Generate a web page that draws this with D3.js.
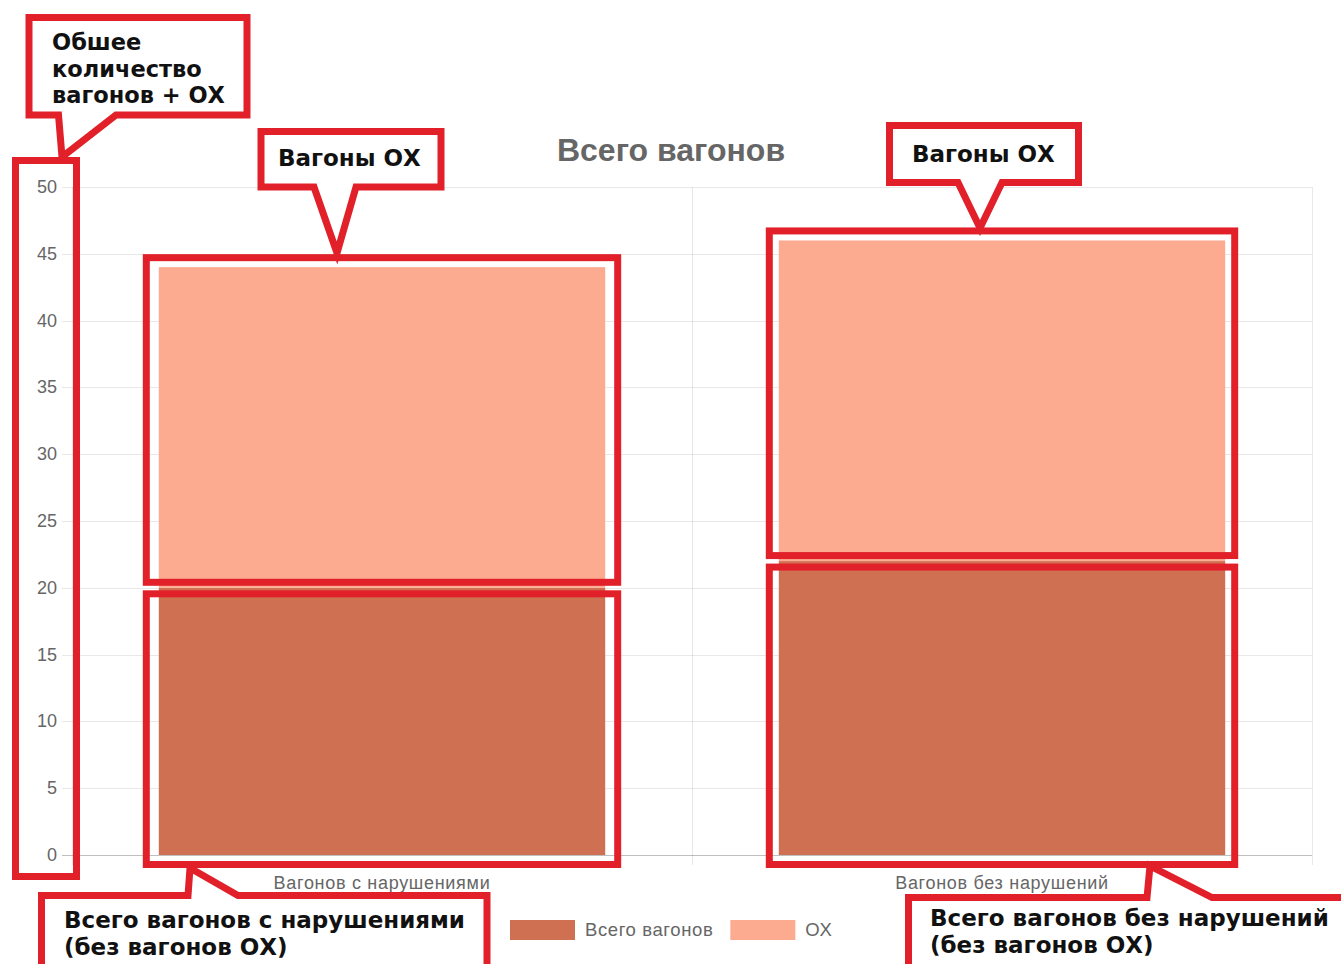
<!DOCTYPE html>
<html>
<head>
<meta charset="utf-8">
<script src="https://cdn.jsdelivr.net/npm/d3@7"></script>
<style>
  body { margin: 0; background: #fff; }
  svg { display: block; }
</style>
</head>
<body>
<script>
// chart data
var categories = ["Вагонов с нарушениями", "Вагонов без нарушений"];
var seriesNames = ["Всего вагонов", "ОХ"];
var totalWagons = [20, 22];
var ohWagons = [24, 24];
var yTicks = [0, 5, 10, 15, 20, 25, 30, 35, 40, 45, 50];
var colors = ["#cf7052", "#fcab91"];

var width = 1341, height = 964;
var red = "#e1202a";
var annoFont = "'DejaVu Sans', Verdana, sans-serif";
var chartFont = "'Liberation Sans', Arial, sans-serif";

var svg = d3.select("body")
    .append("svg")
    .attr("width", width)
    .attr("height", height);

var y = d3.scaleLinear()
    .domain([0, 50])
    .range([855, 187]);

var x = d3.scaleBand()
    .domain(categories)
    .range([72, 1312])
    .paddingInner(0);

var barWidth = x.bandwidth() * 0.72;

var rows = categories.map(function(c, i) {
    return {cat: c, "Всего вагонов": totalWagons[i], "ОХ": ohWagons[i]};
});
var stacked = d3.stack().keys(seriesNames)(rows);

// grid lines
svg.append("g")
    .selectAll("line")
    .data(yTicks)
    .enter()
    .append("line")
    .attr("x1", 62)
    .attr("x2", 1312)
    .attr("y1", function(d) { return Math.round(y(d)) + 0.5; })
    .attr("y2", function(d) { return Math.round(y(d)) + 0.5; })
    .attr("stroke", function(d) { return d === 0 ? "rgba(0,0,0,0.25)" : "rgba(0,0,0,0.09)"; })
    .attr("stroke-width", 1);

var edges = [72, 72 + x.bandwidth(), 1312];
svg.append("g")
    .selectAll("line")
    .data(edges)
    .enter()
    .append("line")
    .attr("x1", function(d) { return d + 0.5; })
    .attr("x2", function(d) { return d + 0.5; })
    .attr("y1", y(50))
    .attr("y2", 865)
    .attr("stroke", "rgba(0,0,0,0.09)");

// y tick labels
svg.append("g")
    .selectAll("text")
    .data(yTicks)
    .enter()
    .append("text")
    .attr("x", 57)
    .attr("y", function(d) { return y(d) + 6; })
    .attr("text-anchor", "end")
    .attr("font-family", chartFont)
    .attr("font-size", 18)
    .attr("fill", "#666")
    .text(function(d) { return d; });

// category labels
svg.append("g")
    .selectAll("text")
    .data(categories)
    .enter()
    .append("text")
    .attr("x", function(d) { return x(d) + x.bandwidth() / 2; })
    .attr("y", 889)
    .attr("text-anchor", "middle")
    .attr("font-family", chartFont)
    .attr("font-size", 18)
    .attr("letter-spacing", 0.7)
    .attr("fill", "#666")
    .text(function(d) { return d; });

// title
svg.append("text")
    .attr("x", 671)
    .attr("y", 161)
    .attr("text-anchor", "middle")
    .attr("font-family", chartFont)
    .attr("font-weight", "bold")
    .attr("font-size", 32)
    .attr("fill", "#666")
    .text("Всего вагонов");

// bars
svg.append("g")
    .selectAll("g")
    .data(stacked)
    .enter()
    .append("g")
    .attr("fill", function(d, i) { return colors[i]; })
    .selectAll("rect")
    .data(function(d) { return d; })
    .enter()
    .append("rect")
    .attr("x", function(d) { return x(d.data.cat) + (x.bandwidth() - barWidth) / 2; })
    .attr("width", barWidth)
    .attr("y", function(d) { return y(d[1]); })
    .attr("height", function(d) { return y(d[0]) - y(d[1]); });

// legend
var legend = svg.append("g");
var lx = 510;
seriesNames.forEach(function(name, i) {
    legend.append("rect")
        .attr("x", lx)
        .attr("y", 920)
        .attr("width", 65)
        .attr("height", 20)
        .attr("fill", colors[i]);
    var t = legend.append("text")
        .attr("x", lx + 75)
        .attr("y", 936)
        .attr("font-family", chartFont)
        .attr("font-size", 18.5)
        .attr("letter-spacing", 0.6)
        .attr("fill", "#666")
        .text(name);
    lx += 75 + t.node().getComputedTextLength() + 17;
});

// annotation boxes around bar segments
var anno = svg.append("g")
    .attr("fill", "none")
    .attr("stroke", red)
    .attr("stroke-width", 7);

stacked.forEach(function(layer, li) {
    layer.forEach(function(d, ci) {
        var cx = x(d.data.cat) + x.bandwidth() / 2;
        var padX = ci === 0 ? 12.5 : 9.5;
        var top = li === 1 ? y(d[1]) - 9.5 : y(d[1]) + 6;
        var bottom = li === 1 ? y(d[0]) - 5.5 : y(d[0]) + 9.5;
        anno.append("rect")
            .attr("x", cx - barWidth / 2 - padX)
            .attr("y", top)
            .attr("width", barWidth + padX * 2)
            .attr("height", bottom - top);
    });
});

// box around y axis labels
anno.append("rect")
    .attr("x", 15.5)
    .attr("y", 160.5)
    .attr("width", 61)
    .attr("height", 716);

// callouts
function calloutDown(x0, y0, x1, y1, ta, tb, tip) {
    return "M" + x0 + "," + y0 + "L" + x1 + "," + y0 + "L" + x1 + "," + y1 +
        "L" + tb + "," + y1 + "L" + tip[0] + "," + tip[1] + "L" + ta + "," + y1 +
        "L" + x0 + "," + y1 + "Z";
}
function calloutUp(x0, y0, x1, y1, ta, tb, tip) {
    return "M" + x0 + "," + y0 + "L" + ta + "," + y0 + "L" + tip[0] + "," + tip[1] +
        "L" + tb + "," + y0 + "L" + x1 + "," + y0 + "L" + x1 + "," + y1 +
        "L" + x0 + "," + y1 + "Z";
}

var callouts = [
    {d: calloutDown(29, 17.5, 247, 115, 58.5, 116, [62, 157]),
     lines: ["Обшее", "количество", "вагонов + ОХ"], tx: 52, ty: 50, size: 22.5},
    {d: calloutDown(261, 131.5, 441, 187, 314, 356, [337, 253]),
     lines: ["Вагоны ОХ"], tx: 278, ty: 166, size: 23},
    {d: calloutDown(889.5, 125.5, 1078.5, 182.5, 958, 1002, [980, 228]),
     lines: ["Вагоны ОХ"], tx: 912, ty: 162, size: 23},
    {d: calloutUp(41.5, 895.5, 487, 990, 188, 238, [190, 868]),
     lines: ["Всего вагонов с нарушениями", "(без вагонов ОХ)"], tx: 64, ty: 928, size: 23},
    {d: calloutUp(908.5, 897.5, 1360, 990, 1147, 1212, [1150, 866]),
     lines: ["Всего вагонов без нарушений", "(без вагонов ОХ)"], tx: 930, ty: 926, size: 23}
];

callouts.forEach(function(c) {
    svg.append("path")
        .attr("d", c.d)
        .attr("fill", "#fff")
        .attr("stroke", red)
        .attr("stroke-width", 7)
        .attr("stroke-linejoin", "miter");
    c.lines.forEach(function(line, i) {
        svg.append("text")
            .attr("x", c.tx)
            .attr("y", c.ty + i * 26.5)
            .attr("font-family", annoFont)
            .attr("font-weight", "bold")
            .attr("font-size", c.size)
            .attr("fill", "#111")
            .text(line);
    });
});
</script>
</body>
</html>
